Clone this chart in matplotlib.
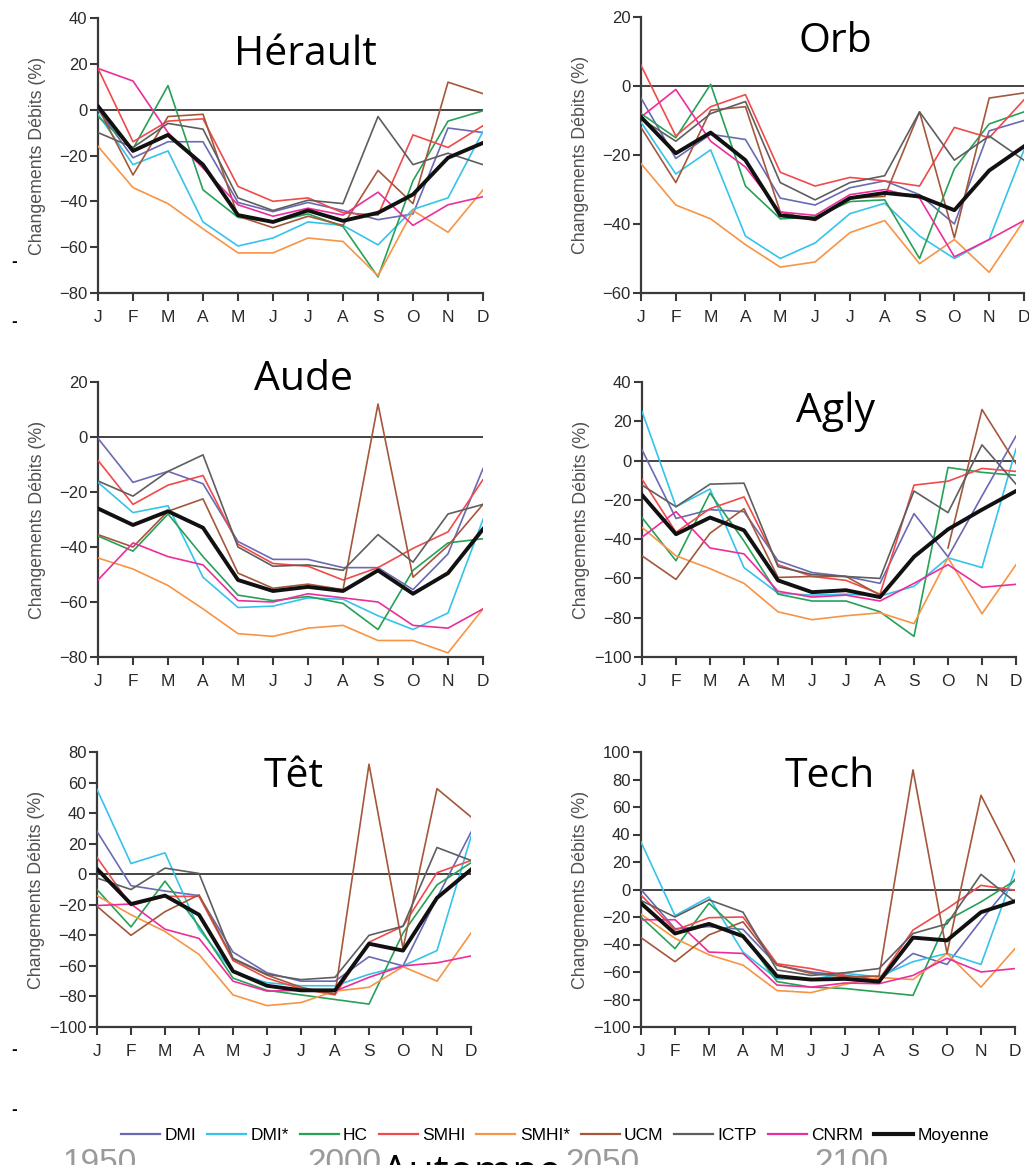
import numpy as np
import matplotlib.pyplot as plt

months = ["J", "F", "M", "A", "M", "J", "J", "A", "S", "O", "N", "D"]
models = ["DMI", "DMI*", "HC", "SMHI", "SMHI*", "UCM", "ICTP", "CNRM", "Moyenne"]
colors = ["#6a6ab4", "#35c3ec", "#26a157", "#f04a4a", "#f79445", "#a4573b",
          "#5e5e5e", "#ec2d9c", "#111111"]
legend_labels = ["DMI", "DMI*", "HC", "SMHI", "SMHI*", "UCM", "ICTP", "CNRM", "Moyenne"]

herault = {
    "DMI": [0, -21, -14, -14, -40.5, -44.5, -40.5, -44, -48, -45.5, -8, -10],
    "DMI*": [-2, -24, -18, -49, -59.5, -56, -49, -50.5, -59, -43.5, -38.5, -9.5],
    "HC": [-3, -17, 10.5, -35, -47, -49, -45.5, -51, -73, -31, -5, -0.5],
    "SMHI": [18, -14, -5, -4, -33.5, -40, -38.5, -45, -46, -11, -16.5, -7],
    "SMHI*": [-16, -34, -41, -52, -62.5, -62.5, -56, -57.5, -72.5, -44, -53.5, -35],
    "UCM": [1, -28.5, -3, -2, -46.5, -51.5, -46.5, -50.5, -26.5, -41, 12, 7],
    "ICTP": [-10, -16.5, -6, -8.5, -38.5, -44, -39.5, -41, -3, -24, -19, -24],
    "CNRM": [18, 12.5, -10, -25.5, -41.5, -46.5, -43, -46, -36, -50.5, -41.5, -38],
    "Moyenne": [1.5, -18, -11, -24, -46, -49, -44, -48.5, -45, -37, -21, -14.5],
}
orb = {
    "DMI": [-3.5, -21, -14, -15.5, -32.5, -34.5, -29.5, -27.5, -31.5, -40, -13, -10],
    "DMI*": [-10.5, -25.5, -18.5, -43.5, -50, -45.5, -37, -34, -43.5, -50, -44.5, -18.5],
    "HC": [-8, -15, 0.5, -29, -38.5, -38, -33.5, -33, -50, -24, -11, -7.5],
    "SMHI": [6, -14.5, -6, -2.5, -25, -29, -26.5, -27.5, -29, -12, -15, -4],
    "SMHI*": [-22.5, -34.5, -38.5, -46, -52.5, -51, -42.5, -39, -51.5, -44.5, -54, -39],
    "UCM": [-12, -28, -7, -6, -36.5, -39, -32.5, -32, -7.5, -44, -3.5, -2],
    "ICTP": [-9.5, -16, -8, -4.5, -28, -33, -28, -26, -7.5, -21.5, -14.5, -21.5],
    "CNRM": [-9, -1, -16, -23.5, -36.5, -37.5, -31.5, -30, -32.5, -49.5, -44.5, -39],
    "Moyenne": [-9, -19.5, -13.5, -21.5, -37.5, -38.5, -32.5, -31, -32, -36, -24.5, -17.5],
}
aude = {
    "DMI": [-0.5, -16.5, -12.5, -17, -38, -44.5, -44.5, -47.5, -47.5, -55.5, -42.5, -11.5],
    "DMI*": [-16.5, -27.5, -25, -51, -62, -61.5, -58.5, -59, -65, -70, -64, -30],
    "HC": [-36, -41.5, -28, -43.5, -57.5, -59.5, -58, -60.5, -70, -48.5, -38.5, -37],
    "SMHI": [-8.5, -24.5, -17.5, -14, -39, -46, -47, -52, -47.5, -40.5, -34.5, -15.5],
    "SMHI*": [-44, -48, -54, -62.5, -71.5, -72.5, -69.5, -68.5, -74, -74, -78.5, -62.5],
    "UCM": [-35.5, -40, -27, -22.5, -49.5, -55, -53.5, -55.5, 12, -51, -39.5, -24.5],
    "ICTP": [-16, -21.5, -12.5, -6.5, -40, -47, -46.5, -48.5, -35.5, -45.5, -28, -24.5],
    "CNRM": [-52, -38.5, -43.5, -46.5, -59.5, -60, -57, -58.5, -60, -68.5, -69.5, -62.5],
    "Moyenne": [-26, -32, -27, -33, -52, -56, -54.5, -56, -48.5, -57, -49.5, -33.5],
}
agly = {
    "DMI": [5.5, -29.5, -25, -26, -51, -57, -59, -62.5, -27, -49, -18, 12.5],
    "DMI*": [25, -23.5, -14.5, -54.5, -67.5, -68.5, -68, -69, -64, -49.5, -54.5, 6],
    "HC": [-29, -51, -16.5, -41, -68, -71.5, -71.5, -77, -89.5, -3.5, -6, -7.5],
    "SMHI": [-9.5, -36.5, -24.5, -18.5, -53, -59, -61, -68, -12.5, -10.5, -4, -5.5],
    "SMHI*": [-34, -48.5, -55, -62.5, -77, -81, -79, -77.5, -83, -49.5, -78, -53],
    "UCM": [-48.5, -60.5, -37, -24.5, -59.5, -59, -59, -68.5, np.nan, -44.5, 26, -1.5],
    "ICTP": [-12.5, -23.5, -12, -11.5, -54, -58, -59, -60, -15.5, -26.5, 8, -12],
    "CNRM": [-39, -26, -44.5, -47.5, -66.5, -69.5, -68.5, -71.5, -62.5, -53, -64.5, -63],
    "Moyenne": [-17.5, -37.5, -29, -35.5, -61, -67, -66, -69.5, -49, -35, -25, -15.5],
}
tet = {
    "DMI": [28, -7.5, -11, -14, -51, -64.5, -70, -70, -54, -60, -15.5, 27.5],
    "DMI*": [55.5, 7, 14, -36, -64, -71, -73, -73, -65.5, -60, -50, 24.5],
    "HC": [-10, -34.5, -4.5, -34, -68, -76, -79, -82, -85, -38.5, -7, 7.5],
    "SMHI": [11, -20.5, -14.5, -14.5, -56.5, -68, -75, -79, -44.5, -34, 1, 9],
    "SMHI*": [-14, -26.5, -37.5, -52.5, -79, -86, -84, -76.5, -74, -60.5, -70, -38.5],
    "UCM": [-21, -40, -24.5, -13.5, -55.5, -66, -74, -78.5, 72, -48.5, 56, 37.5],
    "ICTP": [-2.5, -10, 4, 0.5, -55, -65.5, -69, -67.5, -40, -34, 17.5, 9],
    "CNRM": [-20.5, -19.5, -36, -42, -70, -76.5, -76, -76.5, -67.5, -60, -58, -53.5],
    "Moyenne": [3.5, -19.5, -14, -26.5, -63.5, -73, -76, -76, -45.5, -50, -15.5, 3],
}
tech = {
    "DMI": [0, -28.5, -27, -29, -55, -60, -62.5, -66, -46.5, -54.5, -22.5, 7.5],
    "DMI*": [34.5, -19, -5.5, -45.5, -65, -65.5, -61, -63.5, -52.5, -46.5, -54.5, 14],
    "HC": [-20, -43, -10, -33, -67, -71, -72, -74.5, -77, -22.5, -9, 6.5],
    "SMHI": [-4, -29.5, -20.5, -20, -54, -57.5, -62.5, -65.5, -29.5, -14, 3, -0.5],
    "SMHI*": [-18, -35.5, -47.5, -55, -73.5, -75, -69, -64, -65.5, -46.5, -71, -43],
    "UCM": [-35, -52.5, -33, -23.5, -55, -61, -63.5, -63, 87, -46.5, 68.5, 20],
    "ICTP": [-8, -20, -7.5, -16.5, -58.5, -62.5, -60.5, -57.5, -32, -25, 11, -9],
    "CNRM": [-22, -22, -45.5, -46.5, -69.5, -71, -68, -68.5, -62.5, -50, -60, -57.5],
    "Moyenne": [-10, -32, -25, -34, -63, -65.5, -65, -67, -35, -37, -16.5, -8.5],
}

W, H = 1029, 1165
fig = plt.figure(figsize=(W / 100, H / 100), dpi=100)


def px_axes(left, right, top, bottom):
    return fig.add_axes([left / W, (H - bottom) / H, (right - left) / W, (bottom - top) / H])


panels = [
    (herault, "Hérault", (98, 483, 18, 293), (-80, 40), 20, (305, 55)),
    (orb, "Orb", (641, 1024, 17, 293), (-60, 20), 20, (835, 42)),
    (aude, "Aude", (98, 483, 382, 657), (-80, 20), 20, (303, 380)),
    (agly, "Agly", (642, 1016, 382, 657), (-100, 40), 20, (835, 412)),
    (tet, "Têt", (97, 471, 752, 1027), (-100, 80), 20, (294, 777)),
    (tech, "Tech", (641, 1015, 752, 1027), (-100, 100), 20, (830, 777)),
]

x = np.arange(12)
for data, name, box, ylim, step, tpos in panels:
    ax = px_axes(*box)
    ax.axhline(0, color="#111111", lw=1.1, zorder=1)
    for m, c in zip(models, colors):
        if m == "Moyenne":
            ax.plot(x, data[m], color=c, lw=2.8, zorder=5)
        else:
            ax.plot(x, data[m], color=c, lw=1.2, zorder=3)
    ax.set_xlim(0, 11)
    ax.set_ylim(*ylim)
    ax.set_yticks(np.arange(ylim[0], ylim[1] + 1, step))
    ax.set_xticks(x)
    ax.set_xticklabels(months)
    for s in ["top", "right"]:
        ax.spines[s].set_visible(False)
    for s in ["left", "bottom"]:
        ax.spines[s].set_color("#3a3a3a")
        ax.spines[s].set_linewidth(1.6)
    ax.tick_params(axis="both", direction="out", length=6, width=1.5, color="#3a3a3a",
                   labelcolor="#2a2a2a", labelsize=12, pad=1.5)
    ax.tick_params(axis="x", pad=6, labelsize=12.5)
    for lab in ax.get_xticklabels() + ax.get_yticklabels():
        lab.set_family("Liberation Sans")
    ax.set_ylabel("Changements Débits (%)", fontsize=12.8, color="#505050",
                  family="Liberation Sans")
    ax.yaxis.set_label_coords(-52 / (box[1] - box[0]), 0.5)
    ax.patch.set_alpha(0)
    fig.text(tpos[0] / W, (H - tpos[1]) / H, name, fontsize=29.5, family="Open Sans",
             ha="center", va="center", color="#000000")

# legend
handles = [plt.Line2D([], [], color=c, lw=3 if m == "Moyenne" else 1.6)
           for m, c in zip(models, colors)]
fig.legend(handles, legend_labels, loc="center", bbox_to_anchor=(555 / W, (H - 1135) / H),
           ncol=9, frameon=False, handlelength=2.25, handletextpad=0.25, columnspacing=0.62,
           borderpad=0, borderaxespad=0,
           prop={"family": "Liberation Sans", "size": 12.5})

# clipped remnants at the bottom edge
for txt, xp in [("1950", 100), ("2000", 344), ("2050", 602), ("2100", 851)]:
    fig.text(xp / W, (H - 1148) / H, txt, fontsize=24, color="#9a9a9a",
             family="Liberation Sans", ha="center", va="top")
fig.text(472 / W, (H - 1153) / H, "Automne", fontsize=30, color="#000000",
         family="Open Sans", ha="center", va="top")
for yp in [262, 322, 1050, 1110]:
    fig.text(14 / W, (H - yp) / H, "-", fontsize=10, weight="bold", ha="center", va="center")

fig.savefig("out.png", dpi=100)
